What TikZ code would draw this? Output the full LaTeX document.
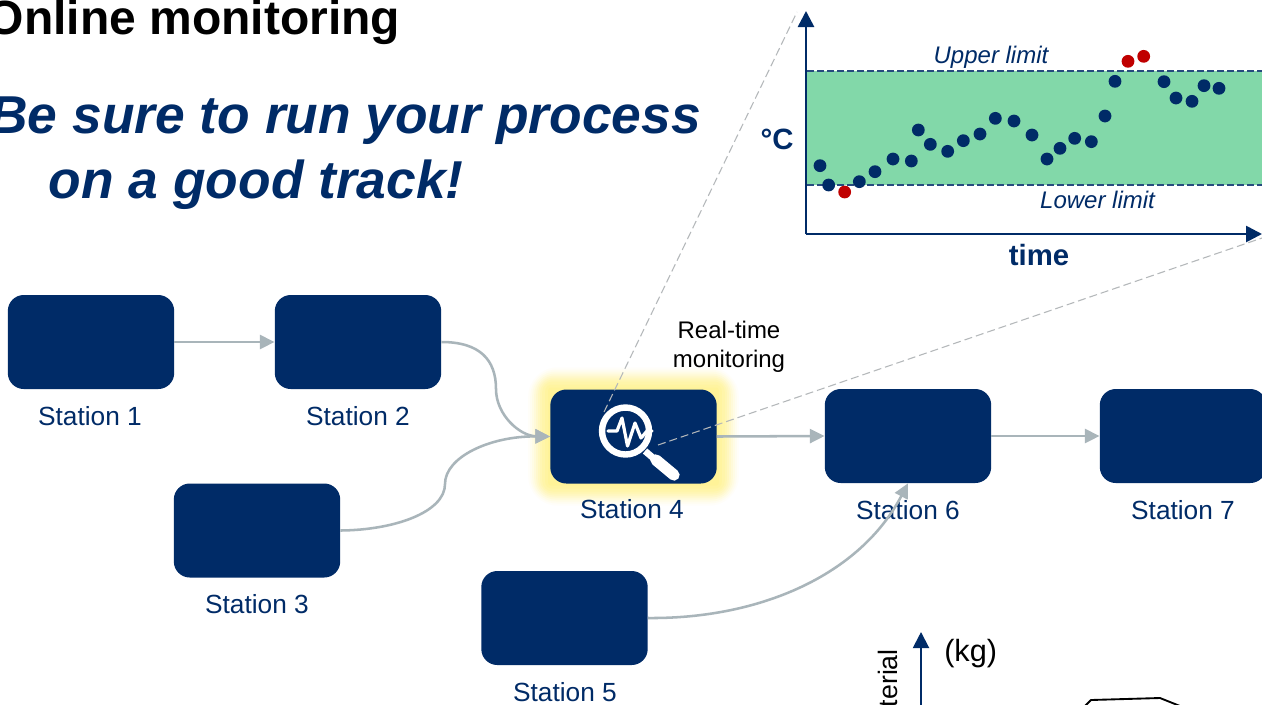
\documentclass[tikz,border=0pt]{standalone}
\usepackage{fontspec}
\setmainfont{Liberation Sans}
\usetikzlibrary{arrows.meta,calc}
\definecolor{navy}{HTML}{002B67}
\definecolor{flow}{HTML}{A9B5BA}
\definecolor{band}{HTML}{82D8A9}
\definecolor{redpt}{HTML}{C00000}
\definecolor{halo}{HTML}{FFF170}
\definecolor{zoomline}{HTML}{B4B8BA}
\tikzset{
  stationbox/.style={fill=navy,rounded corners=12pt,minimum width=124.8pt,minimum height=70.5pt,inner sep=0pt},
  stationlabel/.style={text=navy,font=\fontsize{19.7}{23}\selectfont,inner sep=0pt},
  flowline/.style={draw=flow,line width=1.9pt,-{Triangle[length=11pt,width=10.5pt]}},
  navyaxis/.style={draw=navy,line width=2pt,-{Triangle[length=12pt,width=12pt]}},
  zoomdash/.style={draw=zoomline,line width=0.8pt,dash pattern=on 6pt off 3pt},
  limitline/.style={draw=navy!85!white,line width=0.8pt,dash pattern=on 5pt off 2.5pt},
  limitlabel/.style={text=navy,font=\fontsize{18}{21}\selectfont\itshape,inner sep=0pt},
  okdot/.style={fill=navy,circle,minimum size=9.6pt,inner sep=0pt},
  baddot/.style={fill=redpt,circle,minimum size=9.6pt,inner sep=0pt},
  headline/.style={text=navy,font=\fontsize{40}{48}\selectfont\bfseries\itshape,inner sep=0pt},
}
\begin{document}
\begin{tikzpicture}[x=0.75pt,y=-0.75pt]
\useasboundingbox (0,0) rectangle (1262,704);
\clip (0,0) rectangle (1262,704);
\fill[white] (0,0) rectangle (1262,704);

% headings
\node[anchor=east,inner sep=0pt,font=\fontsize{36}{42}\selectfont\bfseries] (title) at (400.5,22) {Online monitoring};
\node[headline,anchor=east] (head1) at (701,120.5) {Be sure to run your process};
\node[headline,anchor=east] (head2) at (464,184.5) {on a good track!};

% stations
\node[stationbox] (S1) at (91,342) {};
\node[stationbox] (S2) at (358,342) {};
\node[stationbox] (S3) at (257,530.5) {};
\foreach \d/\o in {22/0.04,20/0.06,18/0.08,16/0.1,14/0.12,12/0.14,10/0.15,8/0.15,5/0.15,2/0.15}{
  \fill[halo,opacity=\o,rounded corners=\d pt] (633.5-83.3-\d,436.5-47-\d) rectangle (633.5+83.3+\d,436.5+47+\d);
}
\node[stationbox] (S4) at (633.5,436.5) {};
\node[stationbox] (S5) at (564.5,618) {};
\node[stationbox] (S6) at (908,436) {};
\node[stationbox] (S7) at (1183,436) {};

\node[stationlabel] (L1) at (90,416) {Station 1};
\node[stationlabel] (L2) at (358,416) {Station 2};
\node[stationlabel] (L3) at (257,604) {Station 3};
\node[stationlabel] (L4) at (632,509) {Station 4};
\node[stationlabel] (L5) at (565,692) {Station 5};
\node[stationlabel] (L6) at (908,510) {Station 6};
\node[stationlabel] (L7) at (1183,510) {Station 7};

% connectors
\coordinate (m24) at (496,389);
\coordinate (m34) at (445,484);
\draw[flowline] (S1.east) -- (S2.west);
\draw[flowline] (S2.east) .. controls (480,342) and (496,360) .. (m24) .. controls (496,415) and (520,436) .. (S4.west);
\draw[flowline] (S3.east) .. controls (395,530) and (445,512) .. (m34) .. controls (445,457) and (490,436) .. (S4.west);
\draw[flowline] (S4.east) -- (S6.west);
\draw[flowline] (S6.east) -- (S7.west);
\draw[flowline] (S5.east) .. controls (760,619) and (860,575) .. (S6.south);

\node[inner sep=0pt,align=center,font=\fontsize{18}{21.6}\selectfont] (rt) at (729,347) {Real-time\\monitoring};

% zoom lines
\coordinate (iconA) at (604,412);
\coordinate (iconB) at (658,445);
\coordinate (chartA) at (797,12);
\coordinate (chartB) at (1262,238);
\draw[zoomdash] (iconA) -- (chartA);

% magnifier
\draw[white,line width=4.8pt] (625.5,431) circle (23.5);
\draw[white,line width=5pt] (645,451) -- (658,462);
\draw[white,line width=8.5pt,line cap=round] (656,460) -- (674,475);
\draw[white,line width=2.4pt,line join=round,line cap=round] (608,431) -- (617,431) -- (622,418) -- (627.5,446) -- (635,423) -- (641,438) -- (647,431) -- (652,431);
\draw[zoomdash] (iconB) -- (chartB);

% chart
\fill[band] (807,71) rectangle (1262,185);
\coordinate (ulA) at (807,71); \coordinate (ulB) at (1262,71);
\coordinate (llA) at (807,185); \coordinate (llB) at (1262,185);
\draw[limitline] (ulA) -- (ulB);
\draw[limitline] (llA) -- (llB);
\coordinate (origin) at (806,234);
\coordinate (yend) at (806,11);
\coordinate (xend) at (1262,234);
\draw[navyaxis] (origin) -- (yend);
\draw[navyaxis] (origin) -- (xend);
\node[limitlabel] (ul) at (991,57) {Upper limit};
\node[limitlabel] (ll) at (1097.5,200) {Lower limit};
\node[text=navy,inner sep=0pt,font=\fontsize{22}{26}\selectfont\bfseries] (tm) at (1039,255) {time};
\node[text=navy,inner sep=0pt,font=\fontsize{22}{26}\selectfont\bfseries] (deg) at (777,139) {°C};
\foreach \a/\b in {120/497,146/555,238/545,285/515,339/477,394/483,415/390,451/433,503/454,550/422,600/402,646/355,702/363,756/405,801/477,840/445,884/415,934/425,975/348,1005/244,1152/245,1188/294,1236/304,1272/257,1317/265}{
  \node[okdot] at ({780+\a/3},{\b/3}) {};
}
\foreach \a/\b in {194/576,1044/184,1091/169}{
  \node[baddot] at ({780+\a/3},{\b/3}) {};
}

% lower chart, cut off by the page
\coordinate (y2a) at (921,710);
\coordinate (y2b) at (921,632);
\draw[navyaxis,line width=1.5pt] (y2a) -- (y2b);
\node[inner sep=0pt,anchor=west,font=\fontsize{23}{27}\selectfont] (kg) at (944,654) {(kg)};
\node[inner sep=0pt,anchor=east,rotate=90,font=\fontsize{20}{24}\selectfont] (mat) at (888,649) {terial};
\coordinate (cA) at (1083,708); \coordinate (cB) at (1091,700); \coordinate (cC) at (1160,698); \coordinate (cD) at (1180,706);
\draw[black,line width=1.4pt,line join=round] (cA) -- (cB) -- (cC) -- (cD);
\end{tikzpicture}
\end{document}
